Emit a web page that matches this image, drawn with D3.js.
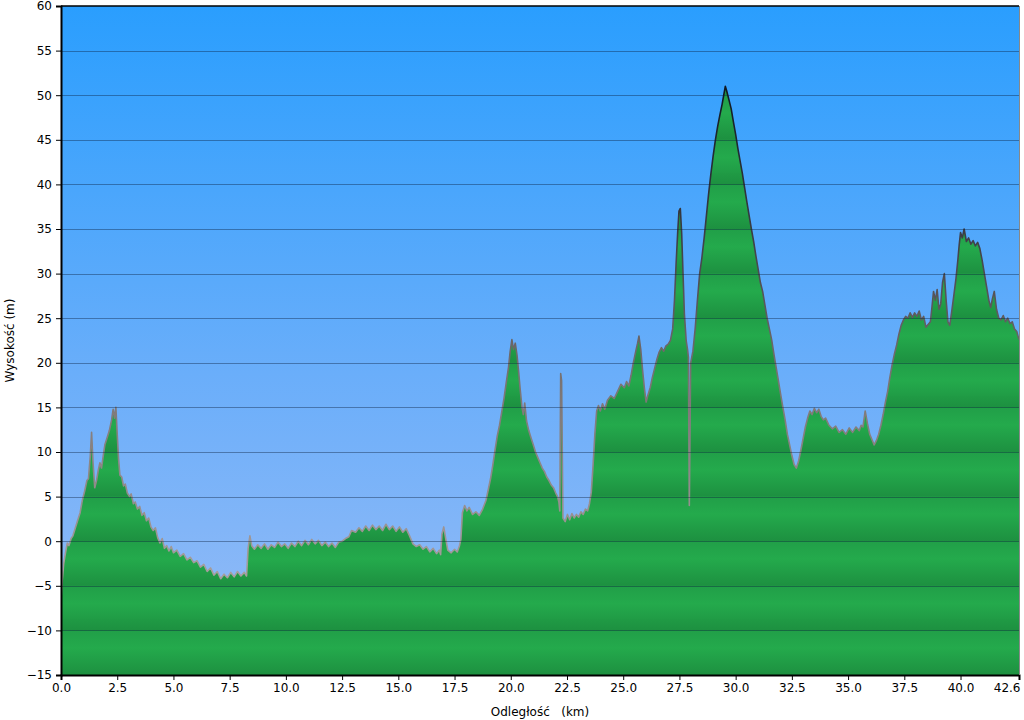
<!DOCTYPE html>
<html><head><meta charset="utf-8">
<script src="https://cdn.jsdelivr.net/npm/d3@7"></script>
<style>
html,body{margin:0;padding:0;background:#fff;}
svg{display:block;font-family:"DejaVu Sans",Verdana,sans-serif;}
</style></head>
<body>
<svg id="chart" width="1024" height="720"></svg>
<script>
// ---- data ----
const distKm = [
0.00,0.05,0.12,0.20,0.28,0.35,0.45,0.53,0.65,0.75,0.85,0.95,1.05,1.15,1.22,1.30,1.36,1.42,1.50,1.58,1.66,1.73,1.80,1.88,1.95,2.05,2.15,2.25,2.32,2.38,2.44,2.50,2.56,2.62,2.70,2.78,2.86,2.95,3.05,3.12,3.22,3.30,3.40,3.50,3.60,3.70,3.80,3.90,4.00,4.10,4.20,4.30,4.40,4.50,4.60,4.70,4.80,4.90,5.00,5.15,5.30,5.45,5.60,5.75,5.90,6.05,6.20,6.35,6.50,6.65,6.80,6.95,7.10,7.25,7.40,7.55,7.70,7.85,8.00,8.15,8.25,
8.32,8.40,8.48,8.60,8.75,8.90,9.05,9.20,9.35,9.50,9.65,9.80,9.95,10.10,10.25,10.40,10.55,10.70,10.85,11.00,11.15,11.30,11.45,11.60,11.75,11.90,12.05,12.20,12.35,12.50,12.65,12.80,12.92,13.10,13.25,13.40,13.55,13.70,13.85,14.00,14.15,14.30,14.45,14.60,14.75,14.90,15.05,15.20,15.35,15.50,15.65,15.80,15.95,16.10,16.25,16.40,16.55,16.70,16.82,16.88,16.94,17.02,17.10,17.20,17.35,17.50,17.62,17.72,
17.78,17.85,17.95,18.05,18.15,18.30,18.45,18.60,18.75,18.90,19.00,19.10,19.20,19.30,19.40,19.50,19.60,19.70,19.80,19.90,19.97,20.05,20.12,20.20,20.28,20.35,20.42,20.50,20.56,20.62,20.70,20.80,20.90,21.00,21.10,21.20,21.30,21.40,21.50,21.60,21.70,21.80,21.90,22.00,22.08,22.14,22.18,22.22,22.26,22.32,22.42,22.52,22.62,22.72,22.82,22.92,23.02,23.12,23.22,23.32,23.42,23.50,23.58,23.66,23.74,23.82,23.90,23.98,24.08,24.18,24.30,24.45,24.60,24.75,24.90,25.05,25.15,25.25,25.35,25.45,25.55,25.64,25.70,25.78,25.86,25.94,26.02,26.10,26.20,26.30,26.40,26.50,26.60,26.70,26.80,26.90,27.00,27.10,27.20,27.28,27.35,27.42,27.48,27.54,27.60,27.66,27.72,27.80,27.86,27.90,27.94,28.00,28.10,28.20,28.30,28.40,28.50,28.60,28.70,28.80,28.90,29.00,29.10,29.20,29.30,29.40,29.47,29.54,29.60,29.70,29.80,29.90,30.00,30.10,30.20,30.30,30.40,30.50,30.60,30.70,30.80,30.90,31.00,31.10,31.20,31.30,31.40,31.50,31.60,31.70,31.80,31.90,32.00,32.10,32.20,32.30,32.40,32.50,32.60,32.70,32.80,32.90,33.00,33.10,33.20,33.30,33.40,33.50,33.60,33.70,33.80,33.90,34.00,34.15,34.30,34.45,34.60,34.75,34.90,35.05,35.20,35.35,35.50,35.58,35.66,35.76,35.86,35.96,36.06,36.16,36.26,36.36,36.46,36.56,36.66,36.76,36.86,36.96,37.06,37.16,37.26,37.36,37.46,37.56,37.66,37.76,37.86,37.96,38.06,38.16,38.26,38.36,38.46,38.56,38.66,38.72,38.80,38.88,38.96,39.04,39.12,39.20,39.28,39.36,39.44,39.52,39.60,39.70,39.80,39.88,39.94,40.00,40.08,40.16,40.26,40.36,40.46,40.56,40.66,40.76,40.86,40.96,41.06,41.16,41.26,41.34,41.42,41.50,41.60,41.70,41.80,41.90,42.00,42.10,42.20,42.30,42.40,42.50,42.60
];
const elevM = [
-6.5,-4.5,-2.5,-1.3,-0.2,-0.5,0.3,0.6,1.6,2.4,3.2,4.6,5.6,6.8,7.0,9.5,12.2,9.0,6.0,6.8,8.0,8.8,8.2,9.6,10.8,11.6,12.4,13.6,14.8,13.8,15.0,12.0,9.2,7.4,7.2,6.2,6.4,5.4,5.0,5.3,4.2,4.4,3.6,3.9,2.9,3.2,2.3,2.6,1.6,1.2,1.5,0.4,-0.2,0.3,-0.8,-0.5,-1.1,-0.6,-1.3,-1.0,-1.7,-1.4,-2.1,-1.8,-2.4,-2.2,-2.9,-2.6,-3.4,-3.0,-3.8,-3.4,-4.2,-3.7,-4.1,-3.5,-4.0,-3.4,-3.9,-3.5,-3.9,
-0.8,0.6,-0.5,-0.9,-0.4,-0.8,-0.3,-0.9,-0.4,-0.7,-0.1,-0.6,-0.3,-0.8,-0.2,-0.6,0.0,-0.5,0.1,-0.4,0.2,-0.3,0.1,-0.5,-0.1,-0.6,-0.2,-0.7,-0.1,0.0,0.3,0.5,1.2,1.0,1.5,1.1,1.7,1.2,1.8,1.3,1.7,1.2,1.9,1.3,1.7,1.1,1.6,1.0,1.4,0.6,-0.3,-0.6,-0.4,-0.9,-0.6,-1.2,-0.8,-1.4,-1.0,-1.5,0.8,1.6,0.4,-1.0,-1.3,-0.9,-1.2,-0.5,0.2,
3.2,4.0,3.4,3.8,3.0,3.3,2.9,3.6,4.6,5.8,7.0,8.5,10.2,11.8,13.0,14.5,16.0,17.8,19.5,21.2,22.6,21.5,22.2,20.8,19.0,17.0,15.0,14.2,15.5,13.5,12.4,11.6,10.8,10.0,9.4,8.8,8.2,7.8,7.2,6.8,6.3,6.0,5.4,5.0,4.4,3.4,18.8,18.0,2.6,2.2,3.0,2.4,3.1,2.6,3.0,2.7,3.3,3.0,3.6,3.4,4.2,5.5,8.5,12.0,14.6,15.2,14.6,15.4,14.8,15.8,16.3,16.0,16.8,17.6,17.2,17.9,17.4,18.6,20.0,21.2,22.2,23.0,21.5,19.2,17.2,15.6,16.4,17.2,18.4,19.4,20.4,21.2,21.7,21.3,21.9,22.1,22.5,23.8,27.0,31.0,34.5,37.0,37.3,34.5,30.0,25.5,22.5,21.5,20.6,4.0,20.0,21.3,23.8,27.0,30.0,31.8,34.0,36.5,39.0,41.2,43.2,45.0,46.5,47.8,49.0,50.0,51.0,50.5,49.5,48.5,47.0,45.6,44.0,42.6,41.2,39.6,38.0,36.5,35.0,33.6,32.0,30.5,29.0,28.0,26.5,25.0,23.8,22.6,21.0,19.5,18.0,16.5,15.0,13.6,12.0,10.8,9.6,8.6,8.2,9.0,10.2,11.5,12.8,13.8,14.6,14.2,14.9,14.4,14.8,14.0,13.6,13.8,13.0,12.6,12.9,12.2,12.5,12.0,12.7,12.2,12.8,12.4,13.0,12.8,14.6,13.2,12.0,11.4,10.8,11.3,12.0,13.0,14.2,15.6,16.8,18.4,19.8,21.0,22.0,23.2,24.2,24.8,25.2,25.0,25.6,25.1,25.6,25.2,25.8,24.8,25.2,24.0,24.3,24.6,26.0,28.0,27.0,28.2,26.0,26.6,29.0,30.0,27.0,24.6,24.2,25.6,27.5,29.5,31.5,33.2,34.6,34.0,35.0,33.6,34.0,33.3,33.7,33.1,33.5,32.8,31.5,30.0,28.5,27.0,26.2,27.2,28.0,26.0,25.0,24.8,25.3,24.6,25.0,24.4,24.6,23.8,23.5,22.6,21.8,20.8
];
const yTicks = [60,55,50,45,40,35,30,25,20,15,10,5,0,-5,-10,-15];
const xTicks = [0,2.5,5,7.5,10,12.5,15,17.5,20,22.5,25,27.5,30,32.5,35,37.5,40,42.6];
const xTitle = "Odległość   (km)";
const yTitle = "Wysokość (m)";

// ---- layout ----
const svg = d3.select("#chart");
const L = 61, R = 1019, T = 6, B = 675;
const x = d3.scaleLinear().domain([0, 42.6]).range([L, R]);
const y = d3.scaleLinear().domain([-15, 60]).range([B, T]);
const data = distKm.map((d, i) => ({d, e: elevM[i]}));

const defs = svg.append("defs");
const bg = defs.append("linearGradient").attr("id","bg").attr("x1",0).attr("y1",0).attr("x2",0).attr("y2",1);
bg.append("stop").attr("offset","0%").attr("stop-color","#2a9efe");
bg.append("stop").attr("offset","55%").attr("stop-color","#6aaefa");
bg.append("stop").attr("offset","100%").attr("stop-color","#98bcf6");

const band = y(0) - y(5);
const gg = defs.append("linearGradient").attr("id","gband").attr("x1",0).attr("y1",0).attr("x2",0).attr("y2",1);
gg.append("stop").attr("offset","0%").attr("stop-color","#219f48");
gg.append("stop").attr("offset","40%").attr("stop-color","#24aa4c");
gg.append("stop").attr("offset","100%").attr("stop-color","#1d9040");
const pat = defs.append("pattern").attr("id","gpat").attr("patternUnits","userSpaceOnUse")
  .attr("x",0).attr("y",y(60)).attr("width",1024).attr("height",band);
pat.append("rect").attr("width",1024).attr("height",band).attr("fill","url(#gband)");

const sg = defs.append("linearGradient").attr("id","sgrad").attr("gradientUnits","userSpaceOnUse")
  .attr("x1",0).attr("y1",y(52)).attr("x2",0).attr("y2",y(-5));
sg.append("stop").attr("offset","0%").attr("stop-color","#0c1620");
sg.append("stop").attr("offset","30%").attr("stop-color","#3a3c44");
sg.append("stop").attr("offset","60%").attr("stop-color","#7a7474");
sg.append("stop").attr("offset","100%").attr("stop-color","#a8a0a0");

defs.append("clipPath").attr("id","clip").append("rect")
  .attr("x",L).attr("y",T).attr("width",R-L).attr("height",B-T);

svg.append("rect").attr("x",L).attr("y",T).attr("width",R-L).attr("height",B-T).attr("fill","url(#bg)");

const g = svg.append("g").attr("clip-path","url(#clip)");
const area = d3.area().x(p => x(p.d)).y0(B).y1(p => y(p.e));
const line = d3.line().x(p => x(p.d)).y(p => y(p.e));
g.append("path").datum(data).attr("d", area).attr("fill","url(#gpat)");
g.append("path").datum(data).attr("d", line).attr("fill","none")
  .attr("stroke","url(#sgrad)").attr("stroke-width",1.6).attr("stroke-linejoin","round");

// grid lines
g.selectAll("line.grid").data(yTicks.filter(v => v > -15 && v < 60)).enter().append("line")
  .attr("x1",L).attr("x2",R).attr("y1",v => Math.round(y(v))+0.5).attr("y2",v => Math.round(y(v))+0.5)
  .attr("stroke","rgba(10,30,60,0.4)").attr("stroke-width",1);

// axes
const yAxis = d3.axisLeft(y).tickValues(yTicks).tickSize(5).tickPadding(4).tickFormat(d3.format("d"));
const xAxis = d3.axisBottom(x).tickValues(xTicks).tickSize(5).tickPadding(3)
  .tickFormat(d => d === 42.6 ? "42.6" : d3.format(".1f")(d));
const ya = svg.append("g").attr("transform",`translate(${L},0)`).call(yAxis);
const xa = svg.append("g").attr("transform",`translate(0,${B})`).call(xAxis);
[ya, xa].forEach(a => {
  a.selectAll("text").attr("font-size",12).attr("fill","#000").attr("font-family","DejaVu Sans, Verdana, sans-serif");
  a.selectAll("line").attr("stroke","#000");
  a.select(".domain").attr("stroke","#000").attr("stroke-width",2);
});
xa.selectAll(".tick").filter(d => d === 42.6).select("text").attr("text-anchor","end").attr("dx",1);
// frame top / right
svg.append("line").attr("x1",L).attr("x2",R).attr("y1",T).attr("y2",T).attr("stroke","#000").attr("stroke-width",1.5);
svg.append("line").attr("x1",R+0.5).attr("x2",R+0.5).attr("y1",T).attr("y2",B).attr("stroke","#888").attr("stroke-width",1);

svg.append("text").attr("x",(L+R)/2).attr("y",716).attr("text-anchor","middle")
  .attr("font-size",12).attr("xml:space","preserve").style("white-space","pre").text(xTitle);
svg.append("text").attr("transform",`translate(14,${(T+B)/2}) rotate(-90)`).attr("text-anchor","middle")
  .attr("font-size",12).text(yTitle);
</script>
</body></html>
